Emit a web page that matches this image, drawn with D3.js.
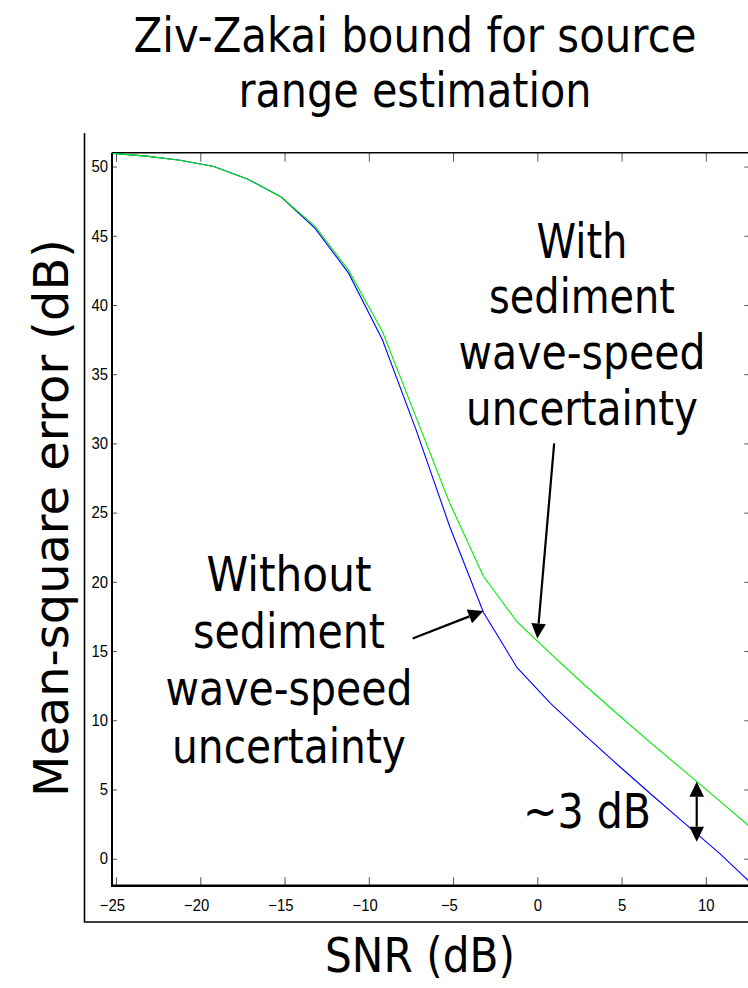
<!DOCTYPE html>
<html>
<head>
<meta charset="utf-8">
<script src="https://cdn.jsdelivr.net/npm/d3@7"></script>
<style>
  html, body { margin: 0; padding: 0; background: #fff; }
  svg { display: block; }
</style>
</head>
<body>
<svg id="chart" width="748" height="988"></svg>
<script>
// SNR grid (dB) shared by both bound curves
const snr = [-25.2, -23.2, -21.2, -19.2, -17.2, -15.2, -13.2, -11.2, -9.2, -7.2,
             -5.2, -3.2, -1.2, 0.8, 2.8, 4.8, 6.8, 8.8, 10.8, 12.8];

// Ziv-Zakai bound (mean-square error, dB) with sediment wave-speed uncertainty
const mseWithUncertainty = [50.95, 50.75, 50.45, 50.0, 49.1, 47.8, 45.7, 42.5, 38.1, 31.9,
                            25.7, 20.4, 17.1, 14.8, 12.55, 10.4, 8.3, 6.25, 4.2, 2.1];

// Ziv-Zakai bound without sediment wave-speed uncertainty
const mseWithoutUncertainty = [50.95, 50.75, 50.45, 50.0, 49.1, 47.8, 45.55, 42.3, 37.5, 31.0,
                               24.0, 17.8, 13.8, 11.2, 8.95, 6.75, 4.6, 2.5, 0.4, -1.9];

const xTickValues = [-25, -20, -15, -10, -5, 0, 5, 10];
const yTickValues = [0, 5, 10, 15, 20, 25, 30, 35, 40, 45, 50];

const titleLines = ["Ziv-Zakai bound for source", "range estimation"];
const xLabel = "SNR (dB)";
const yLabel = "Mean-square error  (dB)";
const withLines = ["With", "sediment", "wave-speed", "uncertainty"];
const withoutLines = ["Without", "sediment", "wave-speed", "uncertainty"];
const gapLabel = "~3 dB";

// ---- layout ----
const plot = { left: 112, right: 749.3, top: 152.7, bottom: 885.7 };
const bigFont = "'DejaVu Sans', Verdana, sans-serif";
const tickFont = "'Liberation Sans', Arial, sans-serif";

const svg = d3.select("#chart");

const x = d3.scaleLinear().domain([-25.24, 12.58]).range([plot.left, plot.right]);
const y = d3.scaleLinear().domain([-1.95, 51.0]).range([plot.bottom, plot.top]);

// outer frame (left and bottom edges)
svg.append("path")
  .attr("d", `M84.5,133 L84.5,922 L748,922`)
  .attr("fill", "none").attr("stroke", "#000").attr("stroke-width", 1.6);

// centred text squeezed horizontally to a given width
function bigText(str, cx, baseline, width, size, rotate) {
  const t = svg.append("text")
    .attr("x", 0).attr("y", 0)
    .attr("text-anchor", "middle")
    .attr("font-family", bigFont)
    .attr("font-size", size)
    .attr("fill", "#000")
    .text(str);
  const natural = t.node().getComputedTextLength();
  const sx = width / natural;
  t.attr("transform", `translate(${cx},${baseline})${rotate ? ` rotate(${rotate})` : ""} scale(${sx},1)`);
  return t;
}

// title
bigText(titleLines[0], 415, 51.5, 563, 48);
bigText(titleLines[1], 415, 106.5, 353, 48);

// clip for plotted curves
svg.append("defs").append("clipPath").attr("id", "plotClip")
  .append("rect")
  .attr("x", plot.left).attr("y", plot.top)
  .attr("width", plot.right - plot.left).attr("height", plot.bottom - plot.top);

// axes with inward ticks
const tickColor = "#555";

const gBottom = svg.append("g").attr("transform", `translate(0,${plot.bottom})`)
  .call(d3.axisBottom(x).tickValues(xTickValues).tickSizeInner(-8.5).tickSizeOuter(0)
        .tickPadding(13.2).tickFormat(d => d < 0 ? "\u2212" + Math.abs(d) : String(d)));
const gTop = svg.append("g").attr("transform", `translate(0,${plot.top})`)
  .call(d3.axisTop(x).tickValues(xTickValues).tickSizeInner(-9).tickSizeOuter(0).tickFormat(""));
const gLeft = svg.append("g").attr("transform", `translate(${plot.left},0)`)
  .call(d3.axisLeft(y).tickValues(yTickValues).tickSizeInner(-5).tickSizeOuter(0).tickPadding(4));
const gRight = svg.append("g").attr("transform", `translate(${plot.right},0)`)
  .call(d3.axisRight(y).tickValues(yTickValues).tickSizeInner(-5).tickSizeOuter(0).tickFormat(""));

[gBottom, gTop, gLeft, gRight].forEach(g => {
  g.select(".domain").remove();
  g.selectAll(".tick line").attr("stroke", tickColor).attr("stroke-width", 1);
  g.selectAll(".tick text")
    .attr("font-family", tickFont).attr("font-size", 16.5).attr("fill", "#000");
});
// slightly narrow tick numerals
[gBottom, gLeft].forEach(g => {
  g.selectAll(".tick text").each(function () {
    const n = this.getComputedTextLength();
    d3.select(this).attr("textLength", n * 0.9).attr("lengthAdjust", "spacingAndGlyphs");
  });
});
// negative x labels: digits centred on the tick, minus sign hanging left
gBottom.selectAll(".tick text").attr("dx", d => d < 0 ? -4.2 : 0);

// axis box lines
svg.append("line").attr("x1", plot.left).attr("x2", plot.right + 2)
  .attr("y1", plot.bottom).attr("y2", plot.bottom)
  .attr("stroke", "#000").attr("stroke-width", 2.6);
svg.append("line").attr("x1", plot.left).attr("x2", plot.left)
  .attr("y1", plot.top).attr("y2", plot.bottom + 1.3)
  .attr("stroke", "#000").attr("stroke-width", 2);
svg.append("line").attr("x1", plot.left).attr("x2", plot.right + 2)
  .attr("y1", plot.top).attr("y2", plot.top)
  .attr("stroke", "#000").attr("stroke-width", 1.5);

// curves
const line = d3.line().x((d, i) => x(snr[i])).y(d => y(d));
const curves = svg.append("g").attr("clip-path", "url(#plotClip)");
curves.append("path").datum(mseWithoutUncertainty)
  .attr("d", line).attr("fill", "none").attr("stroke", "#0000ff").attr("stroke-width", 1.1);
curves.append("path").datum(mseWithUncertainty)
  .attr("d", line).attr("fill", "none").attr("stroke", "#00ee00").attr("stroke-width", 1.1);

// annotation arrows (data coordinates)
function arrow(x0, y0, x1, y1, heads) {
  const p0 = [x(x0), y(y0)], p1 = [x(x1), y(y1)];
  const g = svg.append("g");
  const len = 15, half = 7.3;
  const head = (tip, from) => {
    const dx = tip[0] - from[0], dy = tip[1] - from[1];
    const L = Math.hypot(dx, dy), ux = dx / L, uy = dy / L;
    const bx = tip[0] - ux * len, by = tip[1] - uy * len;
    g.append("polygon")
      .attr("points", [[tip[0], tip[1]], [bx - uy * half, by + ux * half], [bx + uy * half, by - ux * half]]
        .map(p => p.join(",")).join(" "))
      .attr("fill", "#000");
    return [bx, by];
  };
  const endB = head(p1, p0);
  const endA = heads === 2 ? head(p0, p1) : p0;
  g.insert("line", "polygon")
    .attr("x1", endA[0]).attr("y1", endA[1]).attr("x2", endB[0]).attr("y2", endB[1])
    .attr("stroke", "#000").attr("stroke-width", 2.2);
}

arrow(1.0, 30.0, 0.0, 15.9, 1);
arrow(-7.4, 15.9, -3.2, 17.9, 1);
arrow(9.46, 5.56, 9.46, 1.23, 2);

// annotation text
const withBase = [258, 313, 369, 425];
const withWidth = [91, 186, 247, 232];
withLines.forEach((s, i) => bigText(s, 582, withBase[i], withWidth[i], 48));

const withoutBase = [591, 648, 705, 763];
const withoutWidth = [165, 192, 247, 234];
withoutLines.forEach((s, i) => bigText(s, 289, withoutBase[i], withoutWidth[i], 48));

bigText(gapLabel, 587, 828, 128, 48);

// axis labels
bigText(xLabel, 420, 972, 190, 48);
// rotated label: squeeze along its own reading direction
(function () {
  const t = svg.append("text")
    .attr("x", 0).attr("y", 0)
    .attr("text-anchor", "middle")
    .attr("font-family", bigFont).attr("font-size", 48).attr("fill", "#000")
    .text(yLabel);
  const sx = 558 / t.node().getComputedTextLength();
  t.attr("transform", `translate(68,518) rotate(-90) scale(${sx},1)`);
})();
</script>
</body>
</html>
